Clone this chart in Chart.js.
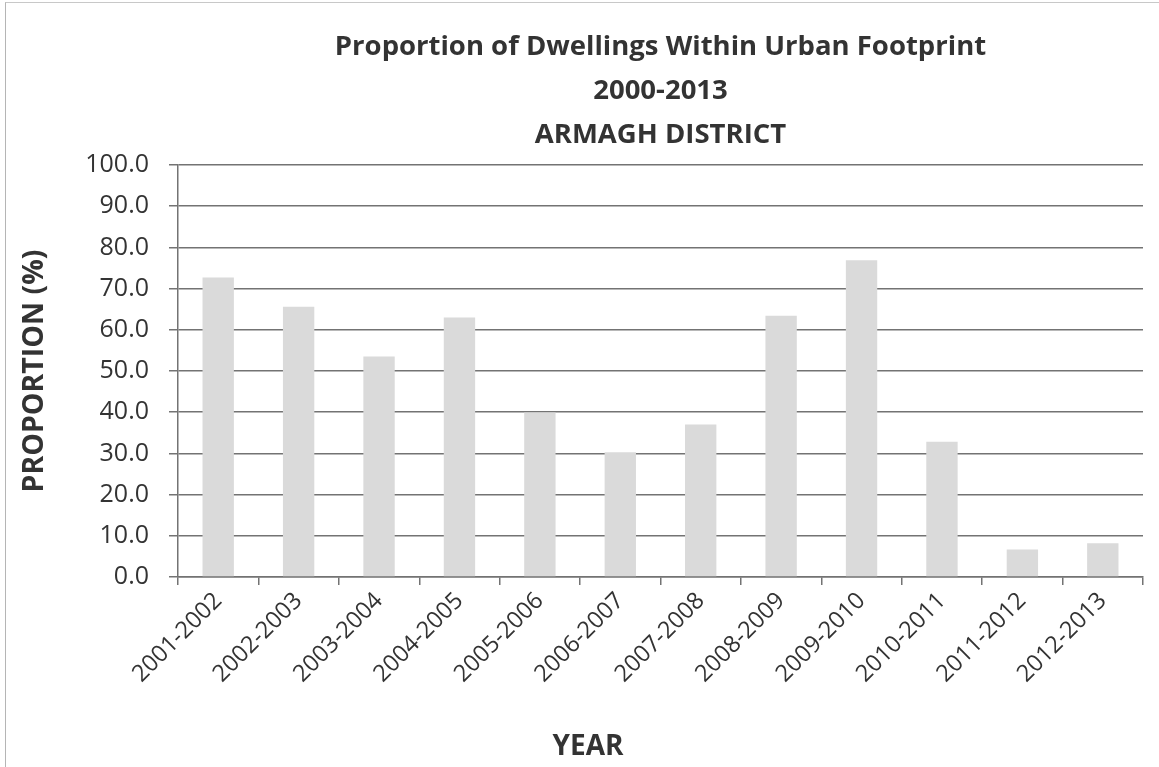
<!DOCTYPE html>
<html>
<head>
<meta charset="utf-8">
<script src="https://cdn.jsdelivr.net/npm/chart.js@4.4.1/dist/chart.umd.min.js"></script>
<style>
    html, body { margin: 0; padding: 0; background: #fff; }
    #wrap { position: relative; width: 1159px; height: 767px; }
    #frame { position: absolute; left: 5px; top: 2px; right: 0; bottom: 0; border-left: 1px solid #b5b5b5; border-top: 1px solid #c8c8c8; pointer-events: none; }
</style>
</head>
<body>
<div id="wrap">
    <canvas id="dwellings_chart" width="1159" height="767"></canvas>
    <div id="frame"></div>
</div>
<script>
// data
const years = ['2001-2002', '2002-2003', '2003-2004', '2004-2005', '2005-2006', '2006-2007',
    '2007-2008', '2008-2009', '2009-2010', '2010-2011', '2011-2012', '2012-2013'];
const proportions = [72.7, 65.6, 53.5, 63.0, 39.9, 30.3, 37.0, 63.4, 76.9, 32.8, 6.7, 8.2];
const titleLines = ['Proportion of Dwellings Within Urban Footprint', '2000-2013', 'ARMAGH DISTRICT'];

const FONT = "'Open Sans', 'Noto Sans', sans-serif";
const TEXT = '#333';
const GRID = '#737373';

// x axis title sits left of the plot centre in the original, so draw it by hand
const yearTitle = {
    id: 'yearTitle',
    afterDraw(chart) {
        const ctx = chart.ctx;
        ctx.save();
        ctx.font = `bold 28px ${FONT}`;
        ctx.fillStyle = TEXT;
        ctx.textAlign = 'center';
        ctx.textBaseline = 'middle';
        ctx.fillText('YEAR', 588, 747);
        ctx.restore();
    }
};

Chart.defaults.animation = false;

new Chart(document.getElementById('dwellings_chart'), {
    type: 'bar',
    data: {
        labels: years,
        datasets: [{
            data: proportions,
            backgroundColor: '#dadada',
            borderWidth: 0,
            barPercentage: 0.39,
            categoryPercentage: 1
        }]
    },
    options: {
        responsive: false,
        layout: { padding: { top: 25, right: 16, left: 0, bottom: 0 } },
        plugins: {
            legend: { display: false },
            tooltip: { enabled: false },
            title: {
                display: true,
                fullSize: false,
                text: titleLines,
                color: TEXT,
                font: { family: FONT, size: 27.5, weight: 'bold', lineHeight: 1.6 },
                padding: { top: 0, bottom: 8 }
            }
        },
        scales: {
            y: {
                min: 0,
                max: 100,
                ticks: {
                    stepSize: 10,
                    color: TEXT,
                    padding: 20,
                    font: { family: FONT, size: 25 },
                    callback: v => v.toFixed(1)
                },
                grid: { color: GRID, lineWidth: 1.5, tickLength: 9 },
                border: { color: GRID, width: 1.5 },
                title: {
                    display: true,
                    text: 'PROPORTION (%)',
                    color: TEXT,
                    font: { family: FONT, size: 28.5, weight: 'bold' },
                    padding: { top: 18, bottom: 0 }
                },
                afterFit(scale) { scale.width = 178; }
            },
            x: {
                ticks: {
                    color: TEXT,
                    minRotation: 45,
                    maxRotation: 45,
                    padding: 2,
                    font: { family: FONT, size: 23.5 }
                },
                grid: { offset: true, drawOnChartArea: false, color: GRID, lineWidth: 1.5, tickLength: 8 },
                border: { color: GRID, width: 1.5 },
                afterFit(scale) { scale.height = 190; }
            }
        }
    },
    plugins: [yearTitle]
});
</script>
</body>
</html>
